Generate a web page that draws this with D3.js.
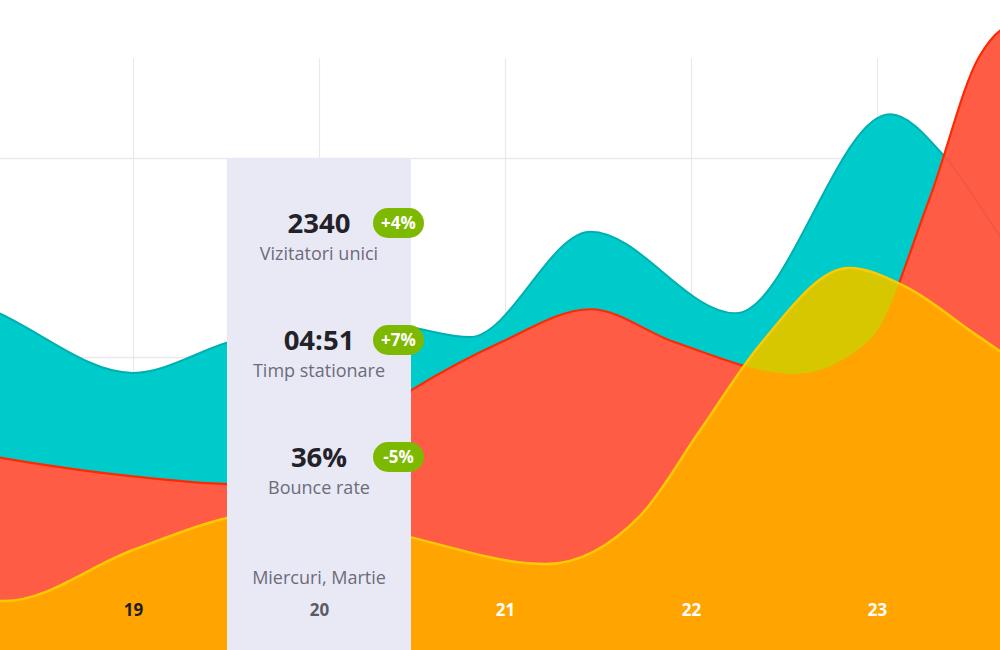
<!DOCTYPE html>
<html><head><meta charset="utf-8">
<script src="https://cdn.jsdelivr.net/npm/d3@7/dist/d3.min.js"></script>
<style>
html,body{margin:0;padding:0;background:#fff;overflow:hidden;}
svg{display:block;font-family:"Open Sans",sans-serif;}
</style></head><body>
<svg id="chart" width="1000" height="650"></svg>
<script>
// ---- data ----
const dayTicks = [18, 19, 20, 21, 22, 23, 24];
const selectedDay = 20;
const gridValues = [100, 200, 300];

const tealDays   = [18.0, 18.28, 19.0, 19.5, 20.0, 20.49, 20.81, 21.46, 22.24, 23.07, 23.37, 23.66, 24.0];
const tealValues = [234, 222, 192, 207, 221, 215, 210, 263, 222, 322, 300, 261, 219];

const redDays   = [18.0, 19.0, 19.58, 20.06, 20.49, 20.97, 21.46, 21.91, 22.56, 22.96, 23.28, 23.55, 23.74, 24.0];
const redValues = [154, 140, 136, 156, 183, 207, 224, 207.5, 191.5, 208.5, 279, 351, 367, 352];

const orangeDays   = [18.0, 18.31, 19.0, 19.5, 19.92, 20.49, 21.22, 21.73, 22.05, 22.37, 22.85, 23.16, 23.52, 24.0];
const orangeValues = [82, 77.4, 103, 119, 124, 109.5, 96, 120.6, 163.3, 206, 244.7, 235, 212, 181];

const statValues  = ["2340", "04:51", "36%"];
const statNames   = ["Vizitatori unici", "Timp stationare", "Bounce rate"];
const statChanges = ["+4%", "+7%", "-5%"];
const dateLabel   = "Miercuri, Martie";

// ---- chart ----
const W = 1000, H = 650;
const svg = d3.select("#chart");
const x = d3.scaleLinear().domain([18, 24]).range([-53, 1063]);
const y = d3.scaleLinear().domain([0, 300]).range([755, 158]);

const zip = (a, b) => a.map((d, i) => [d, b[i]]);
const teal = zip(tealDays, tealValues);
const red = zip(redDays, redValues);
const orange = zip(orangeDays, orangeValues);

// grid
const vg = svg.append("g").attr("transform", `translate(0,${H})`)
  .call(d3.axisBottom(x).tickValues(dayTicks).tickSize(-(H - 58)).tickFormat(""));
vg.select(".domain").remove();
vg.selectAll("line").attr("stroke", "#e9e9ec").attr("stroke-width", 1.2);

const hg = svg.append("g")
  .call(d3.axisLeft(y).tickValues(gridValues).tickSize(-W).tickFormat(""));
hg.select(".domain").remove();
hg.selectAll("line").attr("stroke", "#e9e9ec").attr("stroke-width", 1.5);

const area = d3.area().x(d => x(d[0])).y0(y(0)).y1(d => y(d[1])).curve(d3.curveMonotoneX);
const line = d3.line().x(d => x(d[0])).y(d => y(d[1])).curve(d3.curveMonotoneX);

const defs = svg.append("defs");
defs.append("clipPath").attr("id", "clipTeal").append("path").attr("d", area(teal));
defs.append("clipPath").attr("id", "clipRed").append("path").attr("d", area(red));

// teal
svg.append("path").attr("d", area(teal)).attr("fill", "#00CBCB");
svg.append("path").attr("d", line(teal)).attr("fill", "none").attr("stroke", "#00BABA").attr("stroke-width", 2);
// red
svg.append("path").attr("d", area(red)).attr("fill", "#FF5C46");
svg.append("path").attr("d", line(teal)).attr("fill", "none").attr("stroke", "#000").attr("stroke-opacity", 0.05).attr("stroke-width", 2);
svg.append("path").attr("d", line(red)).attr("fill", "none").attr("stroke", "#FF2800").attr("stroke-width", 2.2);
// orange
svg.append("path").attr("d", area(orange)).attr("fill", "#FFA400");
svg.append("path").attr("d", area(orange)).attr("fill", "#D6C700").attr("clip-path", "url(#clipTeal)");
svg.append("path").attr("d", area(orange)).attr("fill", "#FFA400").attr("clip-path", "url(#clipRed)");
svg.append("path").attr("d", line(orange)).attr("fill", "none").attr("stroke", "#FFCB00").attr("stroke-width", 2.5);

// x labels
const visibleDays = dayTicks.filter(d => x(d) >= 0 && x(d) <= W);
const xa = svg.append("g").attr("transform", "translate(0,616)")
  .call(d3.axisBottom(x).tickValues(visibleDays).tickSize(0).tickPadding(0).tickFormat(d3.format("d")));
xa.select(".domain").remove();
xa.selectAll("text")
  .attr("y", 0).attr("dy", 0)
  .attr("font-family", "'Open Sans', sans-serif")
  .attr("font-size", 17).attr("font-weight", 700)
  .attr("fill", d => d < selectedDay ? "#1e1e2a" : (d === selectedDay ? "#5b5b66" : "#ffffff"));

// tooltip panel (drawn above areas, below labels)
const cx = x(selectedDay);
const panelTop = y(300);
const panel = svg.insert("g", () => xa.node());
panel.append("rect").attr("x", cx - 92).attr("y", panelTop).attr("width", 184).attr("height", H - panelTop).attr("fill", "#E9E9F6");

statValues.forEach((v, i) => {
  const base = panelTop + 75 + i * 117;
  panel.append("text").attr("x", cx).attr("y", base).attr("text-anchor", "middle")
    .attr("font-size", 27.5).attr("font-weight", 700).attr("fill", "#222228").text(v);
  panel.append("text").attr("x", cx).attr("y", base + 26.5).attr("text-anchor", "middle")
    .attr("font-size", 18).attr("fill", "#6c6c7a").text(statNames[i]);
  panel.append("rect").attr("x", cx + 54).attr("y", base - 25).attr("width", 51).attr("height", 30)
    .attr("rx", 15).attr("fill", "#7DB900");
  panel.append("text").attr("x", cx + 79.5).attr("y", base - 4).attr("text-anchor", "middle")
    .attr("font-size", 17).attr("font-weight", 700).attr("fill", "#ffffff").text(statChanges[i]);
});
panel.append("text").attr("x", cx).attr("y", 584).attr("text-anchor", "middle")
  .attr("font-size", 18).attr("fill", "#6c6c7a").text(dateLabel);
</script>
</body></html>
